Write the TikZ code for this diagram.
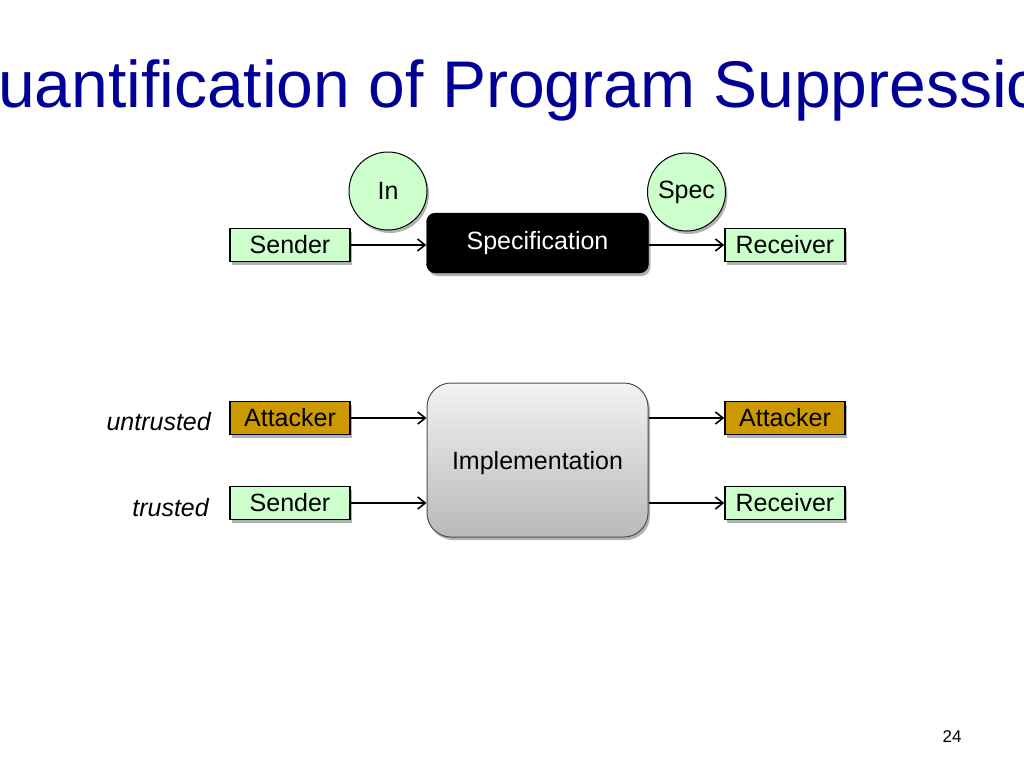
\documentclass[tikz,border=0pt]{standalone}
\usepackage{fontspec}
\setmainfont{Liberation Sans}
\usetikzlibrary{arrows.meta,shadows}
\definecolor{titleblue}{RGB}{0,0,150}
\definecolor{mint}{RGB}{204,255,204}
\definecolor{gold}{RGB}{204,153,0}
\definecolor{implborder}{RGB}{80,80,80}
\tikzset{
  lbl/.style={font=\fontsize{25}{30}\selectfont},
  shadowed/.style={drop shadow={shadow xshift=2pt,shadow yshift=-3pt,opacity=0.3,fill=black}},
  smallbox/.style={lbl,draw=black,line width=1.6pt,minimum width=120pt,minimum height=33pt,inner sep=0pt,shadowed},
  greenbox/.style={smallbox,fill=mint},
  goldbox/.style={smallbox,fill=gold},
  circ/.style={lbl,circle,draw=black,line width=1pt,fill=mint,minimum size=78pt,inner sep=0pt,shadowed},
  specbox/.style={lbl,draw=black,fill=black,text=white,rounded corners=9pt,minimum width=222pt,minimum height=60pt,inner sep=0pt,shadowed},
  implbox/.style={lbl,draw=implborder,line width=1pt,top color=gray!10,bottom color=gray!55,rounded corners=24pt,minimum width=221pt,minimum height=154pt,inner sep=0pt,text depth=0pt,shadowed},
  arr/.style={line width=1.5pt,-{Straight Barb[length=7.5pt,width=12pt,line width=1.6pt]}},
  side/.style={lbl,font=\fontsize{25}{30}\selectfont\itshape,inner sep=0pt},
}
\begin{document}
\begin{tikzpicture}[x=1pt,y=-1pt]
\useasboundingbox[fill=white] (0,0) rectangle (1024,768);
\begin{scope}
\clip (0,0) rectangle (1024,768);
\node[anchor=base west,inner sep=0pt,text=titleblue,font=\fontsize{66}{79}\selectfont] (title) at (-2,107) {uantification of Program Suppressio};
\end{scope}
% top row
\node[greenbox] (s1) at (290,245) {Sender};
\node[specbox] (spec) at (537.5,243) {Specification};
\node[greenbox] (r1) at (785,245) {Receiver};
\node[circ] (in) at (388,191) {In};
\node[circ] (sp) at (686.5,192) {Spec};
\draw[arr] (s1.east) -- (s1.east -| spec.west);
\draw[arr] (spec.east |- r1.west) -- (r1.west);
% bottom
\node[implbox] (impl) at (537.5,460) {Implementation};
\node[goldbox] (a1) at (290,418) {Attacker};
\node[greenbox] (s2) at (290,503) {Sender};
\node[goldbox] (a2) at (785,418) {Attacker};
\node[greenbox] (r2) at (785,503) {Receiver};
\draw[arr] (a1.east) -- (a1.east -| impl.west);
\draw[arr] (s2.east) -- (s2.east -| impl.west);
\draw[arr] (impl.east |- a2.west) -- (a2.west);
\draw[arr] (impl.east |- r2.west) -- (r2.west);
\node[side,anchor=base east] (ut) at (211,430) {untrusted};
\node[side,anchor=base east] (tr) at (209,516) {trusted};
\node[font=\fontsize{17}{20}\selectfont,inner sep=0pt] (pg) at (952,737) {24};
\end{tikzpicture}
\end{document}
